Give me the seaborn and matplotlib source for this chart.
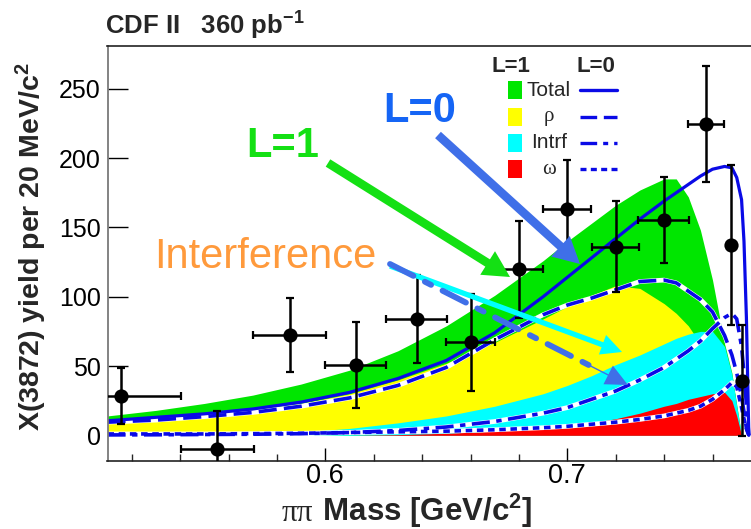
import matplotlib
matplotlib.use("Agg")
import matplotlib.pyplot as plt
from matplotlib.patches import Rectangle
from matplotlib.lines import Line2D
from matplotlib.ticker import MultipleLocator
import pandas as pd
import seaborn as sns

# ---------------- data ----------------
# pi-pi invariant mass grid for the fitted shapes [GeV/c^2]
mass_grid = [0.51, 0.53, 0.55, 0.57, 0.59, 0.61, 0.63, 0.65, 0.67, 0.69, 0.70,
             0.71, 0.72, 0.73, 0.74, 0.745, 0.75, 0.755, 0.76, 0.765, 0.768,
             0.770, 0.772, 0.773, 0.774, 0.775]

# L=1 (filled) components
l1_total = [14, 18, 23, 29, 37, 47, 61, 79, 101, 126, 140, 153, 166, 177, 185,
            185, 172, 148, 112, 66, 45, 22, 0, 0, 0, 0]
l1_rho = [9, 11, 14, 18, 23, 30, 40, 52, 67, 84, 93, 101, 108, 106, 95,
          88, 79, 66, 50, 31, 18, 8, 0, 0, 0, 0]
l1_intrf = [0, 0, 0.5, 1, 2.5, 5, 9, 14, 21, 30, 36, 43, 51, 58, 66,
            70, 73, 75, 75, 64, 44, 21, 0, 0, 0, 0]
l1_omega = [0, 0, 0, 0, 0, 0, 0.5, 1.5, 3, 5, 7, 9, 12, 16, 21,
            23, 26, 28, 30, 31, 25, 14, 0, 0, 0, 0]

# L=0 (line) components
l0_total = [10.5, 13, 15.5, 19, 24, 31, 41, 54, 74, 100, 114, 128, 142, 156,
            169, 175, 181, 187, 192, 194, 193, 186, 170, 140, 85, 0]
l0_rho = [9.5, 11, 13.5, 16.5, 21, 27, 36, 49, 69, 87, 94, 99, 105, 111, 112,
          110, 104, 98, 89, 72, 58, 45, 28, 17, 5, 0]
l0_intrf = [0.3, 0.4, 0.6, 0.8, 1.2, 2, 3.5, 6, 10, 16, 20, 26, 32, 40, 49,
            55, 61, 68, 77, 85, 88, 84, 64, 45, 22, 0]
l0_omega = [1, 1, 1, 1.2, 1.5, 2, 2.5, 3, 4, 5.5, 6.5, 8, 9.5, 11.5, 14,
            16, 18, 21, 26, 33, 38, 35, 20, 12, 5, 0]

# measured yields
mass_pts = [0.5155, 0.5551, 0.5853, 0.6127, 0.6378, 0.6601, 0.6802, 0.7000,
            0.7200, 0.7400, 0.7572, 0.7675, 0.7722]
yield_pts = [28.4, -9.9, 72.4, 50.7, 83.9, 67.1, 119.8, 163.5, 136.1, 155.3,
             224.6, 137.3, 39.4]
yield_err = [20, 27.5, 26.5, 31, 32, 35, 35, 35, 33, 31, 42, 57.5, 40]
mass_err_lo = [0.025, 0.0147, 0.0152, 0.0127, 0.0128, 0.0101, 0.0104, 0.0100,
               0.0100, 0.0107, 0.0073, 0.0, 0.0]
mass_err_hi = [0.025, 0.0154, 0.0151, 0.0124, 0.0125, 0.0101, 0.0098, 0.0097,
               0.0097, 0.0102, 0.0077, 0.0, 0.0]

y_ticks = [0, 50, 100, 150, 200, 250]
x_ticks = [0.6, 0.7]

# ---------------- style ----------------
sns.set_theme(style="white")
plt.rcParams["font.family"] = ["Liberation Sans", "DejaVu Sans"]
plt.rcParams["mathtext.fontset"] = "custom"
plt.rcParams["mathtext.rm"] = "Liberation Sans"
plt.rcParams["mathtext.bf"] = "Liberation Sans:bold"
plt.rcParams["mathtext.it"] = "Liberation Sans:italic"

GREEN = "#00e600"
YELLOW = "#ffff00"
CYAN = "#00ffff"
RED = "#ff0000"
BLUE = "#0a0ae6"
ARROW_BLUE = "#3f6fe8"

W, H = 751, 529
fig = plt.figure(figsize=(W / 100, H / 100), dpi=100)


def fx(px):
    return px / W


def fy(py):
    return 1 - py / H


ax_left, ax_top, ax_bottom = 107.5, 45.7, 460.7
ax = fig.add_axes([fx(ax_left), fy(ax_bottom), fx(W - ax_left), (ax_bottom - ax_top) / H])
ax.set_facecolor("white")

curves = pd.DataFrame({
    "mass": mass_grid,
    "l1_total": l1_total, "l1_rho": l1_rho, "l1_intrf": l1_intrf, "l1_omega": l1_omega,
    "l0_total": l0_total, "l0_rho": l0_rho, "l0_intrf": l0_intrf, "l0_omega": l0_omega,
})

# L=1 filled shapes
for col, colr in [("l1_total", GREEN), ("l1_rho", YELLOW), ("l1_intrf", CYAN), ("l1_omega", RED)]:
    ax.fill_between(curves["mass"], 0, curves[col], color=colr, lw=0, zorder=1)

# L=0 lines (broken styles sit on a white underlay)
line_specs = [
    ("l0_rho", (0, (5, 2))),
    ("l0_intrf", (0, (5, 1.8, 1.5, 1.8))),
    ("l0_omega", (0, (1.8, 1.3))),
]
for col, ls in line_specs:
    sns.lineplot(data=curves, x="mass", y=col, ax=ax, color="white", lw=3.4,
                 estimator=None, sort=False, zorder=2)
    sns.lineplot(data=curves, x="mass", y=col, ax=ax, color=BLUE, lw=2.6,
                 linestyle=ls, estimator=None, sort=False, zorder=2.1)
sns.lineplot(data=curves, x="mass", y="l0_total", ax=ax, color=BLUE, lw=2.3,
             estimator=None, sort=False, zorder=2.2)

# data points
ax.errorbar(mass_pts, yield_pts, xerr=[mass_err_lo, mass_err_hi], yerr=yield_err,
            fmt="none", ecolor="black", elinewidth=1.8, capsize=2.8, capthick=1.6, zorder=4)
sns.scatterplot(x=mass_pts, y=yield_pts, ax=ax, s=105, color="black",
                edgecolor="black", linewidth=0, zorder=5)

# axes
ax.set_xlim(0.51, 0.7759)
ax.set_ylim(-18.3, 281.1)
ax.set_xlabel("")
ax.set_ylabel("")
ax.set_xticks(x_ticks)
ax.set_xticklabels([f"{t:.1f}" for t in x_ticks])
ax.xaxis.set_minor_locator(MultipleLocator(0.02))
ax.set_yticks(y_ticks)
ax.tick_params(axis="y", direction="in", length=14.4, width=1.0, labelsize=18,
               pad=5, colors="black", left=True, right=False)
ax.tick_params(axis="x", which="major", direction="in", length=9.4, width=1.0,
               labelsize=19.5, pad=2, colors="black", bottom=True, top=False)
ax.tick_params(axis="x", which="minor", direction="in", length=5, width=1.0,
               bottom=True, top=False)
ax.spines["right"].set_visible(False)
ax.spines["left"].set_color("#7a7a7a")
ax.spines["left"].set_linewidth(1.3)
for s in ("top", "bottom"):
    ax.spines[s].set_color("#222222")
    ax.spines[s].set_linewidth(1.2)

# titles and axis labels
fig.text(fx(105), fy(34.3), "CDF II   360 pb$^{\\mathbf{-1}}$", weight="bold",
         size=18.5, ha="left", va="baseline")
fig.text(fx(31), fy(247), "X(3872) yield per 20 MeV/c$^{\\mathbf{2}}$", weight="bold",
         size=20.5, rotation=90, ha="center", va="center")
x_base = 521.0
t_pi = fig.text(fx(282), fy(x_base), "ππ", family=["Liberation Serif", "DejaVu Serif"],
                size=22.5, ha="left", va="baseline")
ax.annotate(" Mass [GeV/c$^{\\mathbf{2}}$]", xy=(1.0, fy(x_base)),
            xycoords=(t_pi, "figure fraction"), weight="bold", size=22.5,
            ha="left", va="baseline", annotation_clip=False)

# annotations
fig.text(fx(246.7), fy(156.7), "L=1", color="#14e014", weight="bold", size=30,
         ha="left", va="baseline")
fig.text(fx(383), fy(121.7), "L=0", color="#1565f5", weight="bold", size=30,
         ha="left", va="baseline")
fig.text(fx(154), fy(268.3), "Interference", color="#ff9a3c", size=30,
         ha="left", va="baseline")


def fp(p):
    return (p[0], H - p[1])


def arrow(tail, tip, color, tail_w, head_w, head_l, z=6):
    ax.annotate("", xy=fp(tip), xytext=fp(tail), xycoords="figure pixels",
                textcoords="figure pixels", annotation_clip=False,
                arrowprops=dict(arrowstyle=f"simple,head_length={head_l},head_width={head_w},tail_width={tail_w}",
                                mutation_scale=10, color=color, lw=0,
                                shrinkA=0, shrinkB=0), zorder=z)


arrow((328, 163), (510, 277), "#14e014", 0.62, 2.0, 1.9)
arrow((438, 135), (580, 264), ARROW_BLUE, 0.62, 2.0, 1.9)
arrow((390, 266), (622, 352), CYAN, 0.38, 1.5, 1.5)
# dash-dot arrow: broken shaft plus solid head
tail, tip = (390, 264), (628, 385)
frac = 0.86
mid = (tail[0] + (tip[0] - tail[0]) * frac, tail[1] + (tip[1] - tail[1]) * frac)
ax.annotate("", xy=fp(mid), xytext=fp(tail), xycoords="figure pixels",
            textcoords="figure pixels", annotation_clip=False,
            arrowprops=dict(arrowstyle="-", lw=4.2, color=ARROW_BLUE,
                            linestyle=(0, (4.5, 2.2, 1.2, 2.2)), shrinkA=0, shrinkB=0),
            zorder=6)
arrow((mid[0] - 4, mid[1] - 2), tip, ARROW_BLUE, 0.1, 1.5, 1.6)

# legend block
fig.text(fx(511), fy(71.5), "L=1", weight="bold", size=16, ha="center", va="baseline")
fig.text(fx(596), fy(71.5), "L=0", weight="bold", size=16, ha="center", va="baseline")
legend_rows = [
    ("Total", GREEN, "-", 90),
    ("ρ", YELLOW, (0, (5, 2)), 116.7),
    ("Intrf", CYAN, (0, (5, 1.8, 1.5, 1.8)), 142.7),
    ("ω", RED, (0, (1.8, 1.3)), 169.3),
]
for label, colr, ls, yc in legend_rows:
    fig.add_artist(Rectangle((fx(507.7), fy(yc + 9)), 14 / W, 18 / H,
                             transform=fig.transFigure, color=colr, lw=0))
    fam = ["Liberation Serif", "DejaVu Serif"] if label in ("ρ", "ω") else ["Liberation Sans"]
    fig.text(fx(549), fy(yc), label, size=15, family=fam, ha="center", va="center")
    fig.add_artist(Line2D([fx(580), fx(616.7)], [fy(yc), fy(yc)], transform=fig.transFigure,
                          color=BLUE, lw=2.4, linestyle=ls))

fig.savefig("out.png", dpi=100)
